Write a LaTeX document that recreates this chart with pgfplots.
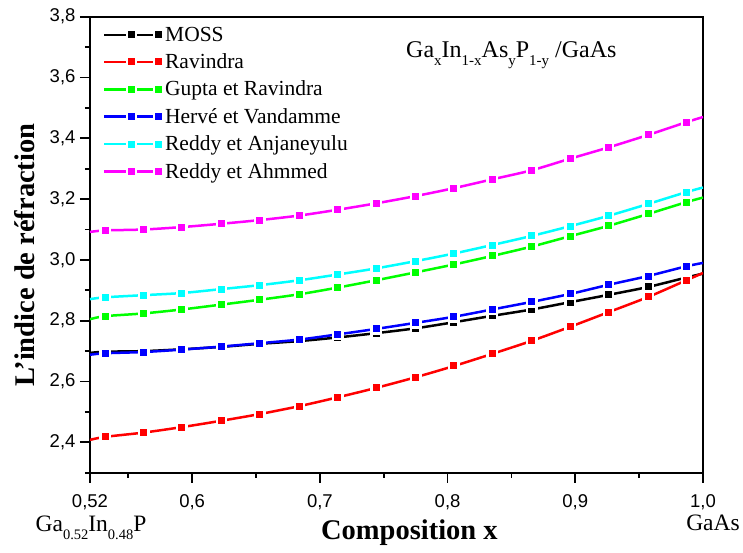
\documentclass[border=0pt]{standalone}
\usepackage{fontspec}
\setmainfont{Liberation Serif}
\newfontfamily\arial{Liberation Sans}
\usepackage{pgfplots}
\usepackage{pgfplotstable}
\pgfplotsset{compat=1.18}
\definecolor{pred}{RGB}{255,0,0}
\definecolor{pgreen}{RGB}{0,255,0}
\definecolor{pblue}{RGB}{0,0,255}
\definecolor{pcyan}{RGB}{0,255,255}
\definecolor{pmag}{RGB}{255,0,255}
\pgfplotstableread{
x     moss  rav   gup   her   ranj  rahm
0.520 2.694 2.408 2.805 2.688 2.871 3.092
0.532 2.698 2.418 2.815 2.693 2.877 3.097
0.562 2.700 2.432 2.824 2.697 2.884 3.100
0.592 2.706 2.450 2.837 2.705 2.891 3.108
0.623 2.714 2.471 2.853 2.715 2.904 3.119
0.653 2.724 2.493 2.869 2.726 2.917 3.131
0.684 2.733 2.519 2.887 2.738 2.933 3.146
0.714 2.745 2.548 2.909 2.755 2.952 3.165
0.744 2.759 2.579 2.933 2.773 2.972 3.186
0.775 2.775 2.614 2.959 2.793 2.996 3.210
0.805 2.795 2.651 2.985 2.813 3.021 3.236
0.835 2.816 2.691 3.013 2.837 3.049 3.265
0.866 2.837 2.734 3.044 2.862 3.079 3.295
0.896 2.861 2.780 3.078 2.888 3.111 3.333
0.926 2.885 2.828 3.112 2.918 3.145 3.370
0.957 2.911 2.878 3.151 2.947 3.184 3.411
0.987 2.942 2.933 3.190 2.979 3.223 3.453
1.000 2.955 2.957 3.205 2.990 3.238 3.470
}\data
\newcommand\sub[1]{\raisebox{-0.32em}{\fontsize{15}{15}\selectfont #1}}
\newcommand\subb[1]{\raisebox{-0.32em}{\fontsize{14.5}{15}\selectfont #1}}
\begin{document}
\begin{tikzpicture}
\begin{axis}[
  at={(0pt,0pt)}, anchor=south west,
  scale only axis, width=613pt, height=456pt,
  xmin=0.52, xmax=1.0, ymin=2.3, ymax=3.8,
  xtick={0.52,0.6,0.7,0.8,0.9,1.0},
  xticklabels={{0,52},{0,6},{0,7},{0,8},{0,9},{1,0}},
  minor xtick={0.55,0.65,0.75,0.85,0.95},
  ytick={2.4,2.6,2.8,3.0,3.2,3.4,3.6,3.8},
  yticklabels={{2,4},{2,6},{2,8},{3,0},{3,2},{3,4},{3,6},{3,8}},
  minor ytick={2.3,2.5,2.7,2.9,3.1,3.3,3.5,3.7},
  tick align=outside, xtick pos=bottom, ytick pos=left,
  major tick length=10pt, minor tick length=5pt,
  every tick/.style={line width=1.8pt, black},
  axis line style={line width=1.8pt},
  tick label style={font=\arial\fontsize{18.5}{20}\selectfont},
  xticklabel style={yshift=-8pt},
  yticklabel style={xshift=-1pt},
  xlabel={\textbf{Composition x}},
  ylabel={\textbf{L'indice de réfraction}},
  xlabel style={font=\fontsize{28.5}{30}\selectfont, at={(axis description cs:0.521,-0.132)}, anchor=center},
  ylabel style={font=\fontsize{28.5}{30}\selectfont, at={(axis description cs:-0.106,0.477)}, anchor=center},
  legend style={at={(axis description cs:0,1)}, anchor=north west, draw=none, fill=none,
    font=\fontsize{21.5}{23}\selectfont, row sep=7.0pt, inner xsep=13pt, inner ysep=8pt},
  legend cell align=left,
  legend image code/.code={\draw[mark repeat=2,mark phase=2,#1] plot coordinates {(0pt,0pt) (27pt,0pt) (54pt,0pt)};},
  every axis plot/.append style={line width=2.5pt, smooth, mark=square*, mark size=4.7pt, mark indices={2,...,17}},
]
\addplot[black, mark options={draw=white, fill=black, line width=2.4pt}] table[x=x,y=moss]{\data};
\addlegendentry{MOSS}
\addplot[pred, mark options={draw=white, fill=pred, line width=2.4pt}] table[x=x,y=rav]{\data};
\addlegendentry{Ravindra}
\addplot[pgreen, mark options={draw=white, fill=pgreen, line width=2.4pt}] table[x=x,y=gup]{\data};
\addlegendentry{Gupta et Ravindra}
\addplot[pblue, mark options={draw=white, fill=pblue, line width=2.4pt}] table[x=x,y=her]{\data};
\addlegendentry{Hervé et Vandamme}
\addplot[pcyan, mark options={draw=white, fill=pcyan, line width=2.4pt}] table[x=x,y=ranj]{\data};
\addlegendentry{Reddy et Anjaneyulu}
\addplot[pmag, mark options={draw=white, fill=pmag, line width=2.4pt}] table[x=x,y=rahm]{\data};
\addlegendentry{Reddy et Ahmmed}
\end{axis}
\node[anchor=base west, font=\fontsize{24}{26}\selectfont, inner sep=0pt] at (316pt,415pt)
  {Ga\sub{x}In\sub{1-x}As\sub{y}P\sub{1-y} /GaAs};
\node[anchor=base, font=\fontsize{23.5}{25}\selectfont, inner sep=0pt] at (1pt,-59pt)
  {Ga\subb{0.52}In\subb{0.48}P};
\node[anchor=base, font=\fontsize{23.5}{25}\selectfont, inner sep=0pt] at (623pt,-58pt) {GaAs};
\pgfresetboundingbox
\path[use as bounding box] (-90pt,-79.3pt) rectangle (653pt,472.7pt);
\end{tikzpicture}
\end{document}
